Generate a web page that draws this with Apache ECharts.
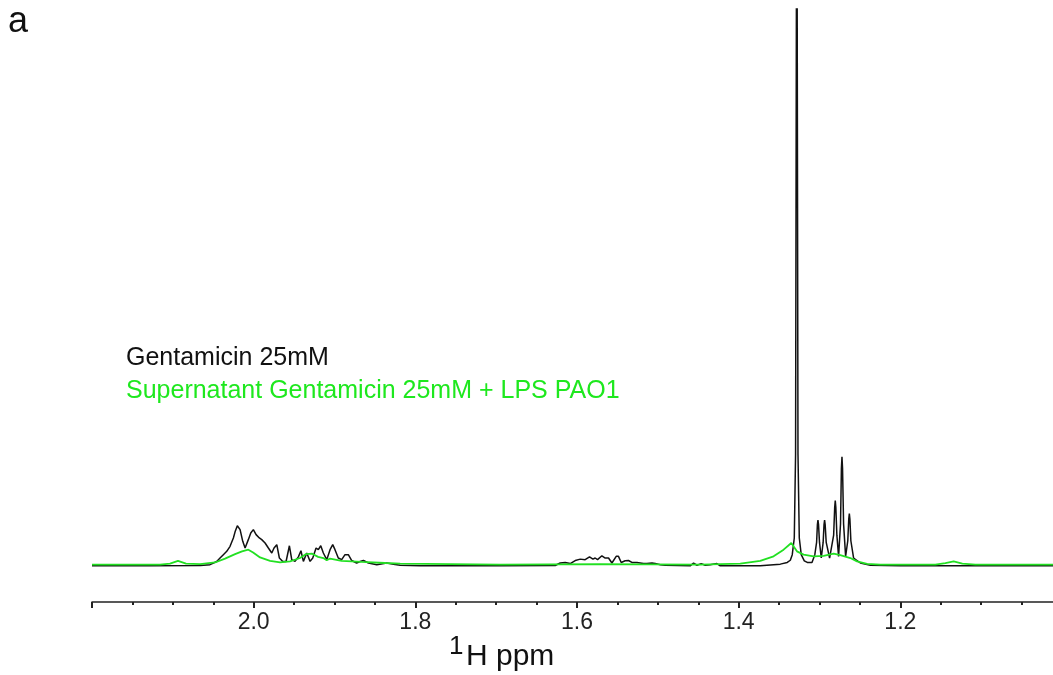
<!DOCTYPE html>
<html>
<head>
<meta charset="utf-8">
<script src="https://cdn.jsdelivr.net/npm/echarts@6/dist/echarts.min.js"></script>
<style>html,body{margin:0;padding:0;background:#fff}#c{width:1053px;height:675px}</style>
</head>
<body>
<div id="c"></div>
<script>
// chemical shift (ppm) and intensity (arbitrary units)
const blackPpm = [2.2, 2.128, 2.066, 2.054, 2.0457, 2.0416, 2.0375, 2.0333, 2.0292, 2.0251, 2.0230, 2.0202, 2.0168, 2.0135, 2.0106, 2.0066, 2.0036, 2.0004, 1.9970, 1.9930, 1.9900, 1.9859, 1.9818, 1.9776, 1.9748, 1.9714, 1.9682, 1.9640, 1.9599, 1.9558, 1.9529, 1.9488, 1.9447, 1.9415, 1.9385, 1.9343, 1.9302, 1.9269, 1.9228, 1.9200, 1.9170, 1.9138, 1.9096, 1.9055, 1.9022, 1.8994, 1.8953, 1.8911, 1.8870, 1.8829, 1.8787, 1.8726, 1.8683, 1.8642, 1.8580, 1.8477, 1.8353, 1.8271, 1.8188, 1.794, 1.695, 1.627, 1.6208, 1.6146, 1.6084, 1.6022, 1.5960, 1.5899, 1.5845, 1.5803, 1.5775, 1.5746, 1.5692, 1.5651, 1.5610, 1.5568, 1.5515, 1.5487, 1.5453, 1.5404, 1.5363, 1.5321, 1.5259, 1.5218, 1.5177, 1.5135, 1.5073, 1.5032, 1.4970, 1.4908, 1.460, 1.4558, 1.4516, 1.4463, 1.4414, 1.4352, 1.4269, 1.4228, 1.3733, 1.3485, 1.3399, 1.3361, 1.3337, 1.3312, 1.3296, 1.3281, 1.3266, 1.3250, 1.3226, 1.3188, 1.3151, 1.3093, 1.3058, 1.3036, 1.3026, 1.3019, 1.3012, 1.3000, 1.2978, 1.2955, 1.2944, 1.2937, 1.2930, 1.2917, 1.2875, 1.2825, 1.2812, 1.2805, 1.2798, 1.2785, 1.2764, 1.2740, 1.2729, 1.2722, 1.2715, 1.2702, 1.2677, 1.2650, 1.2638, 1.2631, 1.2624, 1.2612, 1.2578, 1.2495, 1.2371, 1.2, 1.0];
const blackInt = [0, 0, 0.05, 0.2, 0.77, 1.4, 2.0, 2.6, 3.5, 5.0, 6.1, 7.2, 6.5, 4.4, 3.2, 4.7, 5.9, 6.5, 5.6, 5.0, 4.7, 4.1, 3.2, 2.3, 3.2, 3.8, 1.4, 0.77, 0.77, 3.6, 1.1, 0.8, 1.6, 2.7, 0.8, 2.3, 0.8, 1.4, 3.2, 2.9, 3.6, 2.3, 1.1, 2.9, 3.8, 2.9, 1.4, 1.1, 2.0, 2.0, 0.95, 0.5, 0.77, 0.95, 0.5, 0.2, 0.5, 0.3, 0.1, 0, 0, 0.05, 0.5, 0.6, 0.4, 0.95, 1.2, 1.1, 1.6, 1.2, 1.4, 1.1, 1.8, 1.4, 1.4, 0.5, 1.7, 1.7, 0.6, 0.9, 0.95, 0.6, 0.6, 0.5, 0.4, 0.4, 0.5, 0.4, 0.2, 0.1, 0, 0.5, 0.1, 0.4, 0.1, 0.2, 0.4, 0, 0, 0.3, 0.6, 1.0, 2.0, 5, 20, 140, 20, 5, 2, 0.9, 0.6, 0.6, 2.0, 4.2, 7.4, 8.2, 7.4, 4.2, 1.4, 4.2, 7.4, 8.2, 7.4, 4.2, 1.4, 5.5, 10.5, 11.7, 10.5, 5.5, 1.7, 7.5, 17.5, 19.6, 17.5, 7.5, 1.7, 4.5, 8.4, 9.4, 8.4, 4.5, 1.4, 0.5, 0.1, 0, 0];
const greenPpm = [2.2, 2.1158, 2.1035, 2.0936, 2.0837, 2.0663, 2.0478, 2.0354, 2.0230, 2.0144, 2.0066, 2.0007, 1.9921, 1.9797, 1.9673, 1.9550, 1.9426, 1.9351, 1.9281, 1.9203, 1.9138, 1.9096, 1.9055, 1.8912, 1.8665, 1.8376, 1.8188, 1.757, 1.695, 1.5713, 1.4475, 1.398, 1.3733, 1.3568, 1.3444, 1.3349, 1.3279, 1.3197, 1.3073, 1.2949, 1.2825, 1.2743, 1.2619, 1.2536, 1.2412, 1.2248, 1.1567, 1.1443, 1.1340, 1.1233, 1.1072, 1.0];
const greenInt = [0.2, 0.2, 0.4, 0.9, 0.4, 0.3, 0.6, 1.3, 2.1, 2.6, 2.9, 2.4, 1.5, 0.9, 0.6, 0.8, 1.4, 2.1, 2.2, 1.6, 1.4, 1.0, 1.3, 0.9, 0.7, 0.5, 0.4, 0.3, 0.2, 0.3, 0.2, 0.4, 0.9, 1.7, 2.9, 4.1, 2.6, 2.0, 1.7, 1.8, 2.2, 1.9, 1.4, 0.8, 0.35, 0.2, 0.2, 0.5, 0.8, 0.4, 0.2, 0.2];
const seriesNames = ['Gentamicin 25mM', 'Supernatant Gentamicin 25mM + LPS PAO1'];
const tickLabels = ['2.0', '1.8', '1.6', '1.4', '1.2'];

const FONT = 'Liberation Sans';
const chart = echarts.init(document.getElementById('c'), null, {renderer: 'canvas'});
chart.setOption({
  animation: false,
  backgroundColor: '#fff',
  grid: {left: 92, width: 970, top: 9, bottom: 73, containLabel: false, outerBoundsMode: 'none'},
  xAxis: {
    type: 'value', inverse: true, min: 1.0, max: 2.2, interval: 0.2,
    axisLine: {show: true, onZero: false, lineStyle: {color: '#222', width: 1.5}},
    axisTick: {show: true, length: 6, lineStyle: {color: '#222', width: 2}},
    minorTick: {show: true, splitNumber: 4, length: 3, lineStyle: {color: '#222', width: 2}},
    splitLine: {show: false},
    axisLabel: {
      color: '#222', fontFamily: FONT, fontSize: 23, margin: 9,
      formatter: v => { const s = v.toFixed(1); return tickLabels.includes(s) ? s : ''; }
    }
  },
  yAxis: {type: 'value', min: -6.5, max: 100, show: false},
  series: [
    {name: seriesNames[0], type: 'line', showSymbol: false, clip: true,
     lineStyle: {color: '#111', width: 1.5}, itemStyle: {color: '#111'},
     data: blackPpm.map((p, i) => [p, blackInt[i]])},
    {name: seriesNames[1], type: 'line', showSymbol: false, clip: true,
     lineStyle: {color: '#22e022', width: 1.8}, itemStyle: {color: '#22e022'},
     data: greenPpm.map((p, i) => [p, greenInt[i]])}
  ],
  graphic: [
    {type: 'text', x: 8, y: 22, style: {text: 'a', font: '36px "Liberation Sans"', fill: '#111', verticalAlign: 'middle'}},
    {type: 'text', x: 126, y: 358, style: {text: seriesNames[0], font: '25px "Liberation Sans"', fill: '#111', verticalAlign: 'middle'}},
    {type: 'text', x: 126, y: 391, style: {text: seriesNames[1], font: '25px "Liberation Sans"', fill: '#1ee81e', verticalAlign: 'middle'}},
    {type: 'text', x: 449, y: 647, style: {text: '1', font: '26px "Liberation Sans"', fill: '#111', verticalAlign: 'middle'}},
    {type: 'text', x: 466, y: 657, style: {text: 'H ppm', font: '30px "Liberation Sans"', fill: '#111', verticalAlign: 'middle'}}
  ]
});
</script>
</body>
</html>
